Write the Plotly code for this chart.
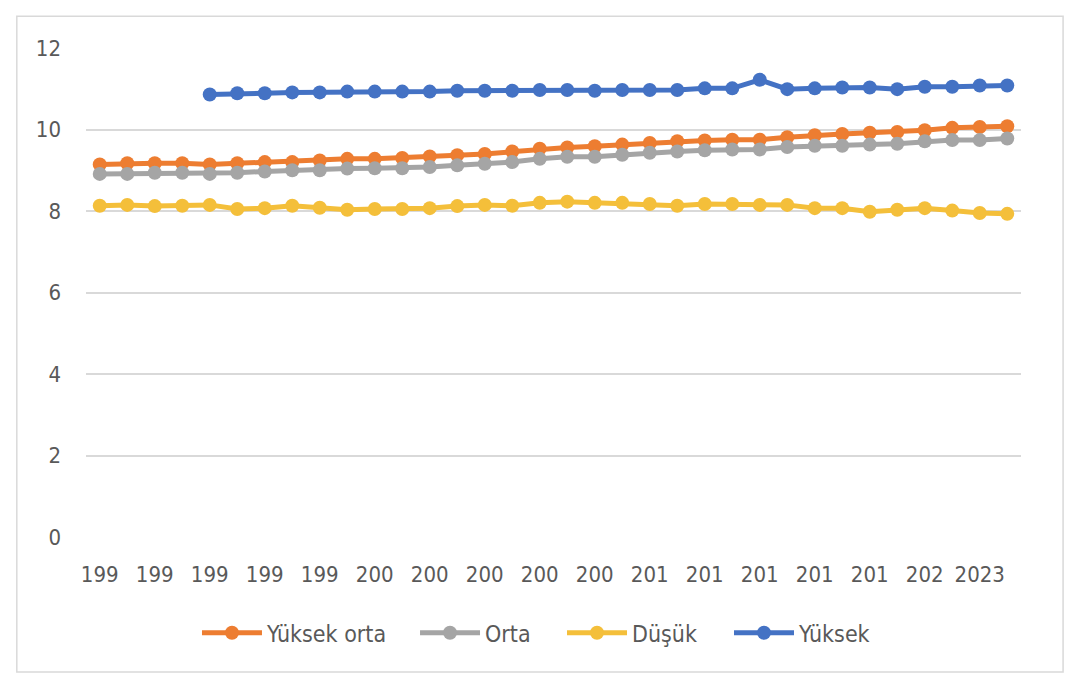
import plotly.graph_objects as go

years = list(range(1990, 2024))

# values
yuksek_orta = [9.14, 9.17, 9.17, 9.17, 9.14, 9.17, 9.20, 9.20, 9.24, 9.28,
               9.28, 9.30, 9.34, 9.37, 9.40, 9.46, 9.53, 9.56, 9.59, 9.63,
               9.67, 9.71, 9.73, 9.75, 9.75, 9.81, 9.86, 9.89, 9.92, 9.94,
               9.98, 10.04, 10.06, 10.08]
orta = [8.91, 8.91, 8.94, 8.94, 8.91, 8.94, 8.97, 9.00, 9.00, 9.04,
        9.05, 9.05, 9.08, 9.12, 9.16, 9.20, 9.28, 9.33, 9.33, 9.38,
        9.43, 9.46, 9.49, 9.51, 9.51, 9.57, 9.60, 9.60, 9.63, 9.65,
        9.71, 9.74, 9.74, 9.78]
dusuk = [8.13, 8.15, 8.12, 8.13, 8.15, 8.05, 8.07, 8.13, 8.08, 8.03,
         8.05, 8.05, 8.07, 8.12, 8.15, 8.13, 8.20, 8.23, 8.20, 8.20,
         8.17, 8.13, 8.17, 8.17, 8.15, 8.15, 8.07, 8.07, 7.98, 8.03,
         8.07, 8.01, 7.95, 7.93]
yuksek = [None, None, None, None, 10.86, 10.89, 10.89, 10.91, 10.91, 10.93,
          10.93, 10.93, 10.93, 10.95, 10.95, 10.95, 10.97, 10.97, 10.95, 10.97,
          10.97, 10.97, 11.01, 11.01, 11.22, 10.99, 11.01, 11.03, 11.03, 10.99,
          11.05, 11.05, 11.08, 11.08]

tick_years = list(range(1990, 2023, 2))
tick_labels = ["199", "199", "199", "199", "199", "200", "200", "200", "200",
               "200", "201", "201", "201", "201", "201", "202", "2023"]

series = [
    ("Yüksek orta", yuksek_orta, "#ED7D31"),
    ("Orta", orta, "#A5A5A5"),
    ("Düşük", dusuk, "#F4BF3A"),
    ("Yüksek", yuksek, "#4472C4"),
]
# one legend per series so the entries can be spaced like the original
legend_x = [0.1187, 0.3519, 0.5091, 0.6877]

font_stack = "DejaVu Sans Condensed, Noto Sans, sans-serif"

fig = go.Figure()
legends = {}
for i, (name, vals, color) in enumerate(series):
    key = "legend" if i == 0 else f"legend{i + 1}"
    fig.add_trace(go.Scatter(
        x=years, y=vals, name=name, mode="lines+markers",
        line=dict(color=color, width=5),
        marker=dict(color=color, size=14, symbol="circle"),
        connectgaps=False, legend=key,
    ))
    legends[key] = dict(orientation="h", x=legend_x[i], xanchor="left",
                        y=-0.196, yanchor="middle", itemwidth=60,
                        bgcolor="rgba(0,0,0,0)",
                        font=dict(size=23, color="#595959", family=font_stack))

fig.update_xaxes(
    range=[1989.5, 2023.5],
    tickmode="array", tickvals=tick_years, ticktext=tick_labels,
    showgrid=False, zeroline=False, showline=False,
    ticks="", ticklabelstandoff=22,
    tickfont=dict(size=22, color="#595959", family=font_stack),
)
fig.update_yaxes(
    range=[0, 12], dtick=2,
    showgrid=True, gridcolor="#D9D9D9", gridwidth=1.5,
    zeroline=False, showline=False, ticks="", ticklabelstandoff=24,
    tickfont=dict(size=22, color="#595959", family=font_stack),
)

# outer chart border
fig.add_shape(type="rect", xref="paper", yref="paper",
              x0=-0.074, x1=1.045, y0=-0.276, y1=1.065,
              line=dict(color="#D9D9D9", width=1.5), layer="below")

fig.update_layout(
    width=1080, height=694,
    margin=dict(l=86, r=59, t=48, b=157),
    paper_bgcolor="white", plot_bgcolor="white",
    font=dict(family=font_stack, color="#595959", size=22),
    showlegend=True,
    **legends,
)

fig.write_html("out.html", config={"displayModeBar": False},
               post_script="document.body.style.margin='0';")
